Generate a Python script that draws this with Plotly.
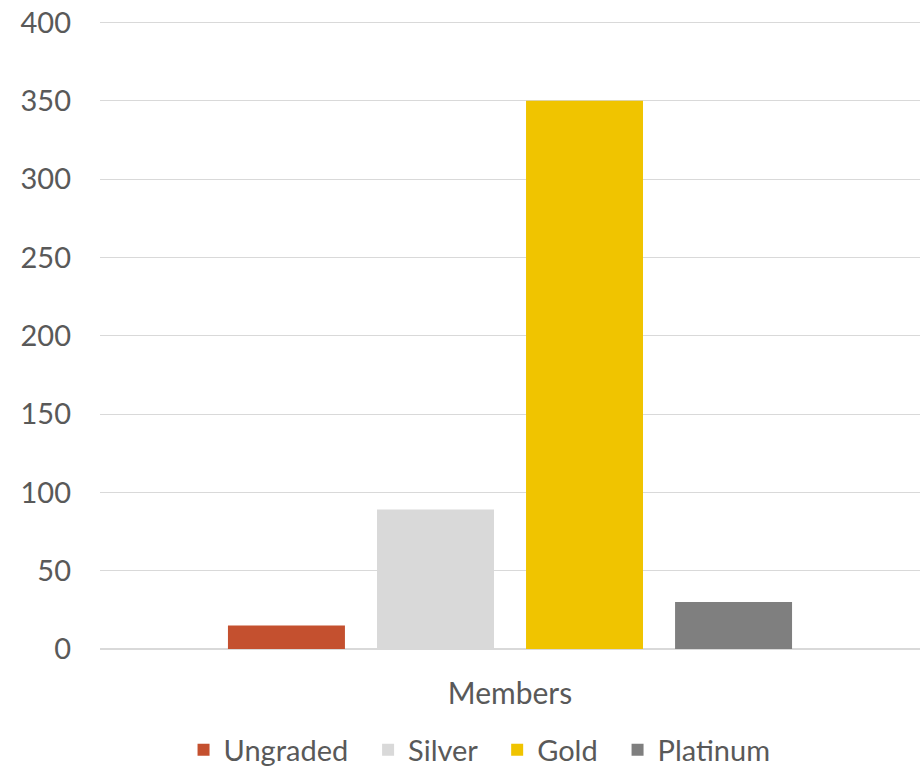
import plotly.graph_objects as go

categories = ["Members"]
series_names = ["Ungraded", "Silver", "Gold", "Platinum"]
series_values = [[15], [89], [350], [30]]
colors = ["#C4502F", "#D9D9D9", "#F0C400", "#7F7F7F"]

fig = go.Figure()
for name, vals, col in zip(series_names, series_values, colors):
    fig.add_trace(go.Bar(x=categories, y=vals, name=name + "\u00a0\u00a0",
                         marker=dict(color=col, line=dict(width=0))))

font_family = "Lato, Open Sans, sans-serif"
fig.update_layout(
    width=923, height=768,
    margin=dict(l=100, r=3, t=20.5, b=119, autoexpand=False),
    paper_bgcolor="white", plot_bgcolor="white",
    barmode="group", bargap=0.273, bargroupgap=0.215,
    font=dict(family=font_family, size=29, color="#595959"),
    showlegend=True,
    legend=dict(orientation="h", x=0.472, xanchor="center", y=-0.12, yanchor="top",
                font=dict(size=29, color="#595959"), itemwidth=30, traceorder="normal"),
    yaxis=dict(range=[0, 401], tickvals=[0, 50, 100, 150, 200, 250, 300, 350, 400],
               showgrid=True, gridcolor="#D9D9D9", gridwidth=1.3,
               zeroline=True, zerolinecolor="#D9D9D9", zerolinewidth=1.5,
               showline=False, ticks="", ticklabelstandoff=28, automargin=False,
               ticklabeloverflow="allow",
               tickfont=dict(size=29, color="#595959")),
    xaxis=dict(showline=False, ticks="", showgrid=False, ticklabelstandoff=24, automargin=False,
               tickfont=dict(size=30, color="#595959")),
)

fig.write_html("out.html", config={"displayModeBar": False},
               post_script="document.body.style.margin='0';document.body.style.overflow='hidden';")
